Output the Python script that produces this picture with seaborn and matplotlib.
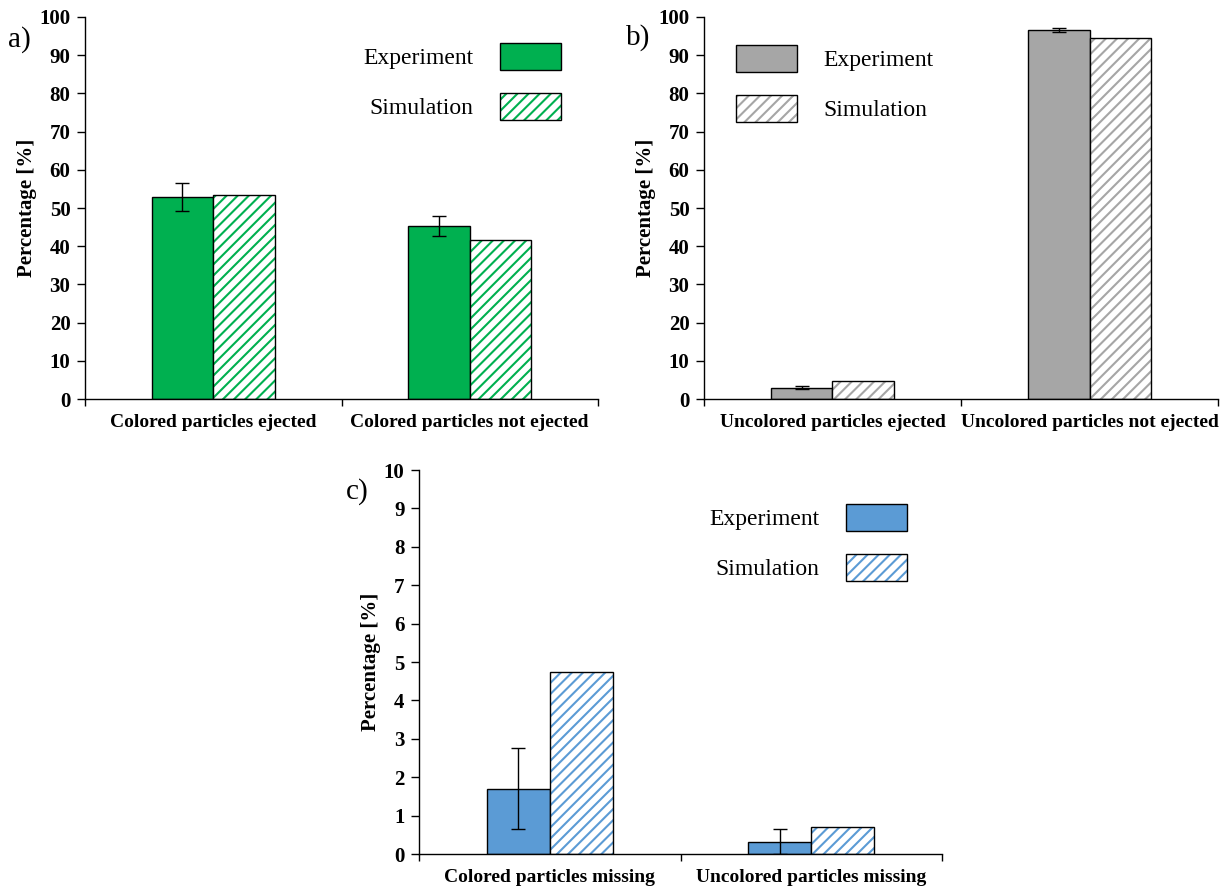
import matplotlib
matplotlib.use('Agg')
import matplotlib.pyplot as plt
import seaborn as sns
import pandas as pd
import numpy as np
from matplotlib.patches import Patch, Rectangle
from matplotlib.legend_handler import HandlerTuple

sns.set_theme(style='ticks')
plt.rcParams['font.family'] = ['Liberation Serif', 'DejaVu Serif']
plt.rcParams['hatch.linewidth'] = 1.5
plt.rcParams['text.color'] = 'black'

# ---------------- data ----------------
series = ['Experiment', 'Simulation']

cats_a = ['Colored particles ejected', 'Colored particles not ejected']
exp_a = [52.9, 45.3]
err_a = [3.7, 2.6]
sim_a = [53.5, 41.6]

cats_b = ['Uncolored particles ejected', 'Uncolored particles not ejected']
exp_b = [3.0, 96.6]
err_b = [0.3, 0.4]
sim_b = [4.7, 94.4]

cats_c = ['Colored particles missing', 'Uncolored particles missing']
exp_c = [1.7, 0.32]
err_c = [1.05, 0.32]
sim_c = [4.73, 0.71]

GREEN = '#00B050'
GRAY = '#A6A6A6'
BLUE = '#5B9BD5'
HATCH = '///'

W, H = 1226, 888
fig = plt.figure(figsize=(W / 100, H / 100), dpi=100)


def fx(px):
    return px / W


def fy(py):
    return 1 - py / H


def panel(rect, cats, exp, err, sim, color, ymax, ystep,
          leg_loc, leg_anchor, markerfirst, label, label_xy):
    ax = fig.add_axes(rect)
    df = pd.DataFrame({
        'category': cats * 2,
        'series': [series[0]] * len(cats) + [series[1]] * len(cats),
        'value': exp + sim,
    })
    sns.barplot(data=df, x='category', y='value', hue='series',
                order=cats, hue_order=series, palette=[color, 'white'],
                saturation=1, width=0.48, edgecolor='black', linewidth=1.0,
                errorbar=None, legend=False, ax=ax)
    # error bars on experiment bars
    bars_e = ax.containers[0]
    xs = [b.get_x() + b.get_width() / 2 for b in bars_e]
    ax.errorbar(xs, exp, yerr=err, fmt='none', ecolor='black',
                elinewidth=1.0, capsize=5, capthick=1.0, zorder=3)
    # hatched simulation bars: colored hatch, black outline
    for b in ax.containers[1]:
        ax.add_patch(Rectangle(b.get_xy(), b.get_width(), b.get_height(),
                               fill=False, ec='black', lw=1.0,
                               zorder=b.get_zorder() + 0.1))
        b.set_hatch(HATCH)
        b.set_edgecolor(color)
        b.set_linewidth(0)

    ax.set_xlim(-0.5, len(cats) - 0.5)
    ax.set_ylim(0, ymax)
    ax.set_yticks(np.arange(0, ymax + ystep / 2, ystep))
    ax.set_xticks(np.arange(-0.5, len(cats), 1.0), minor=True)
    ax.tick_params(axis='y', which='major', length=5.5, width=1, color='black',
                   direction='out', left=True, labelsize=15, pad=5,
                   labelcolor='black')
    ax.tick_params(axis='x', which='major', length=0, bottom=True,
                   labelsize=14, pad=11, labelcolor='black')
    ax.tick_params(axis='x', which='minor', length=5, width=1,
                   color='black', direction='out', bottom=True)
    for lbl in ax.get_xticklabels() + ax.get_yticklabels():
        lbl.set_fontweight('bold')
    ax.set_xlabel('')
    ax.set_ylabel('Percentage [%]', fontsize=15, fontweight='bold',
                  color='black', labelpad=2)
    sns.despine(ax=ax)
    for s in ['left', 'bottom']:
        ax.spines[s].set_color('black')
        ax.spines[s].set_linewidth(1.0)

    h_exp = Patch(facecolor=color, edgecolor='black', lw=1.0)
    h_sim = (Patch(facecolor='white', edgecolor=color, hatch=HATCH, lw=0),
             Patch(facecolor='none', edgecolor='black', lw=1.0))
    leg = ax.legend([h_exp, h_sim], series,
                    handler_map={tuple: HandlerTuple(ndivide=1, pad=0)},
                    loc=leg_loc, bbox_to_anchor=leg_anchor,
                    bbox_transform=fig.transFigure, frameon=False,
                    markerfirst=markerfirst, fontsize=17, handlelength=2.6,
                    handleheight=1.35, handletextpad=1.1, labelspacing=1.0,
                    borderpad=0, borderaxespad=0)
    for t in leg.get_texts():
        t.set_color('black')
    fig.text(fx(label_xy[0]), fy(label_xy[1]), label, fontsize=21,
             ha='left', va='center', color='black')
    return ax


panel([fx(85), fy(399), fx(598 - 85), fy(17) - fy(399)],
      cats_a, exp_a, err_a, sim_a, GREEN, 100, 10,
      'upper right', (fx(561), fy(43)), False, 'a)', (8, 40))

panel([fx(704), fy(399), fx(1218 - 704), fy(17) - fy(399)],
      cats_b, exp_b, err_b, sim_b, GRAY, 100, 10,
      'upper left', (fx(736), fy(45)), True, 'b)', (626, 38))

panel([fx(419), fy(854), fx(942 - 419), fy(470) - fy(854)],
      cats_c, exp_c, err_c, sim_c, BLUE, 10, 1,
      'upper right', (fx(907), fy(504)), False, 'c)', (346, 492))

fig.savefig('out.png', dpi=100)
